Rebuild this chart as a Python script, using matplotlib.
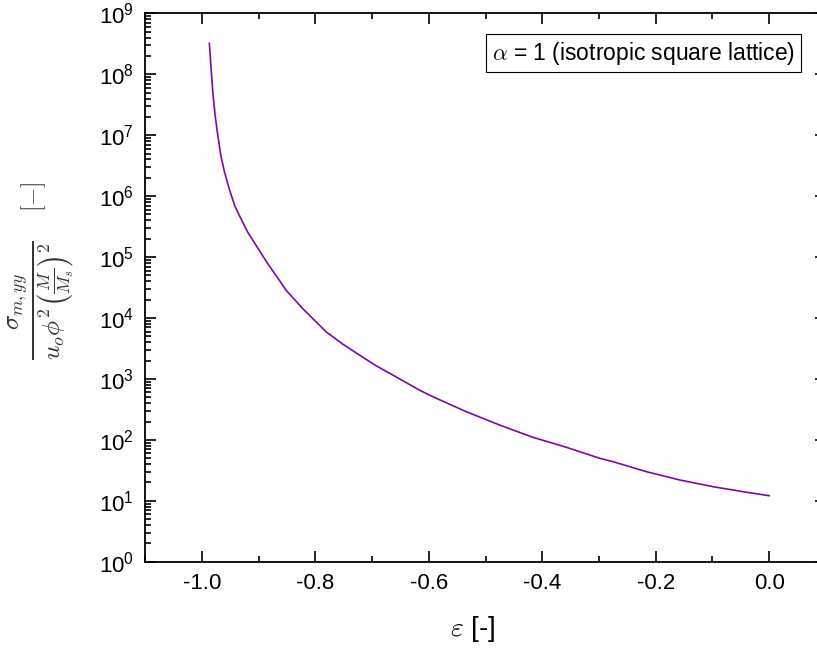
import numpy as np
import matplotlib.pyplot as plt
from matplotlib.ticker import FixedLocator, MultipleLocator, LogLocator, FuncFormatter, NullFormatter

plt.rcParams['font.family'] = ['Liberation Sans', 'DejaVu Sans']
plt.rcParams['mathtext.fontset'] = 'custom'
plt.rcParams['mathtext.rm'] = 'Liberation Sans'
plt.rcParams['mathtext.it'] = 'Liberation Sans:italic'

# strain and normalised magnetic stress for the isotropic lattice
eps = [-0.9866, -0.9836, -0.9801, -0.9765, -0.9718, -0.9665, -0.9601, -0.9518,
       -0.9417, -0.9312, -0.9195, -0.9047, -0.8842, -0.8636, -0.8517, -0.8224,
       -0.8048, -0.7811, -0.7518, -0.7223, -0.6929, -0.6635, -0.6169, -0.5929,
       -0.534, -0.4752, -0.4164, -0.3575, -0.2987, -0.2752, -0.2162, -0.1574,
       -0.0987, -0.0397, 0.0]
sigma = [3.22e8, 1.25e8, 4.57e7, 2.14e7, 9.98e6, 4.69e6, 2.52e6, 1.34e6,
         6.87e5, 4.32e5, 2.61e5, 1.58e5, 7.9e4, 4.2e4, 2.88e4, 1.44e4,
         9880, 5960, 3740, 2470, 1650, 1160, 658, 511,
         290, 175, 110, 75.5, 49.8, 43.8, 30.0, 21.9,
         17.0, 13.8, 12.1]

xticks = [-1.0, -0.8, -0.6, -0.4, -0.2, 0.0]
yexp = list(range(0, 10))

fig = plt.figure(figsize=(8.17, 6.52), dpi=100)
ax = fig.add_axes([0.1775, 0.1385, 0.8335, 0.841])

ax.plot(eps, sigma, color='#7a0aa8', lw=1.2)

ax.set_yscale('log')
ax.set_xlim(-1.1, 0.1)
ax.set_ylim(1, 1e9)

ax.xaxis.set_major_locator(FixedLocator(xticks))
ax.xaxis.set_minor_locator(MultipleLocator(0.1))
ax.xaxis.set_major_formatter(FuncFormatter(lambda v, p: f"{v:.1f}"))
ax.yaxis.set_major_locator(FixedLocator([10.0 ** e for e in yexp]))
ax.yaxis.set_minor_locator(LogLocator(base=10, subs=np.arange(2, 10), numticks=20))
ax.yaxis.set_minor_formatter(NullFormatter())
ax.yaxis.set_major_formatter(FuncFormatter(lambda v, p: r"$10^{%d}$" % round(np.log10(v))))

ax.tick_params(which='both', direction='in', top=True, right=True, width=1.2)
ax.tick_params(which='major', length=8, labelsize=16, pad=8)
ax.tick_params(which='minor', length=4.5)
for s in ax.spines.values():
    s.set_linewidth(1.3)

fig.text(0.578, 0.035, r"$\varepsilon$ [-]", ha='center', va='center',
         fontsize=20, math_fontfamily='cm')

# y label: fraction plus the unit bracket drawn a bit smaller
fig.text(0.05, 0.54,
         r"$\frac{\sigma_{m,yy}}{u_o\phi^2\left(\frac{M}{M_s}\right)^2}$",
         rotation=90, ha='center', va='center', fontsize=26, math_fontfamily='cm',
         color='#333333')
fig.text(0.0416, 0.698, r"$[-]$", rotation=90, ha='center', va='center',
         fontsize=17, math_fontfamily='cm', color='#333333')

fig.text(0.973, 0.9187, r"$\alpha$ = 1 (isotropic square lattice)",
         ha='right', va='center', fontsize=16.5, math_fontfamily='cm',
         bbox=dict(boxstyle='square,pad=0.25', fc='white', ec='black', lw=0.8))

fig.savefig('out.png', dpi=100)
